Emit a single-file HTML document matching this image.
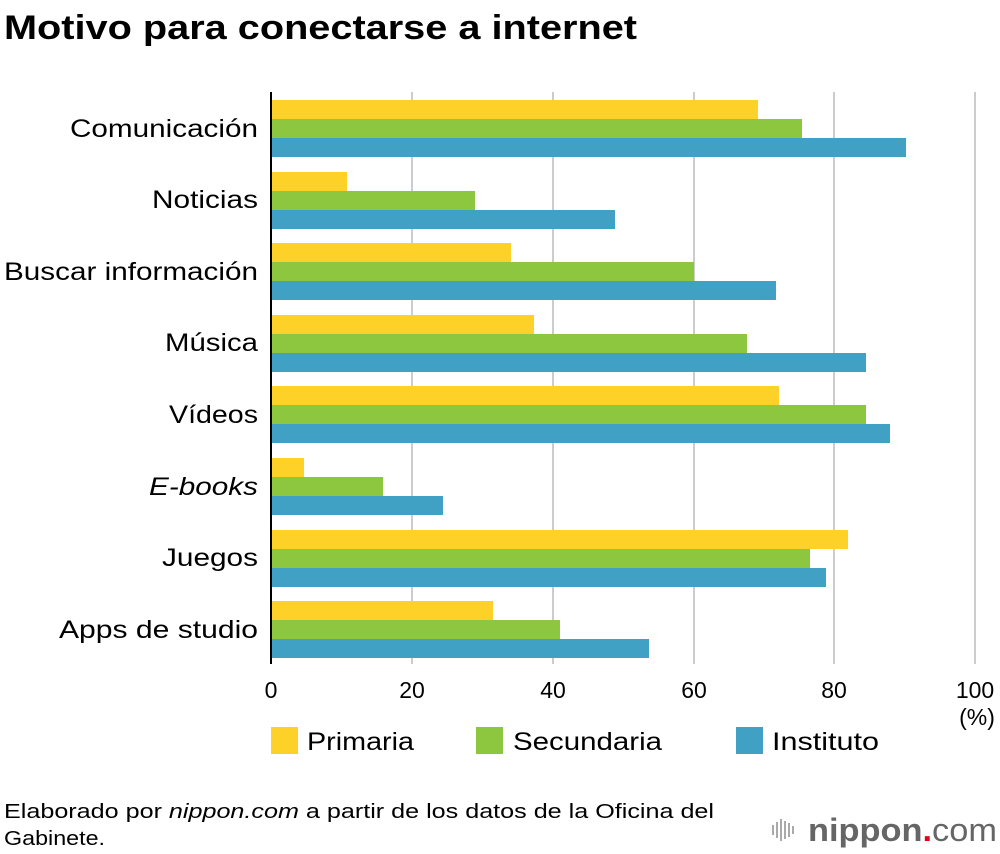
<!DOCTYPE html>
<html><head><meta charset="utf-8"><style>
body{margin:0;background:#fff;}
svg{display:block;font-family:"Liberation Sans",Arial,sans-serif;}
</style></head><body>
<svg width="1000" height="854" viewBox="0 0 1000 854">
<text x="4" y="39" font-size="34" font-weight="bold" fill="#000" textLength="633" lengthAdjust="spacingAndGlyphs">Motivo para conectarse a internet</text>
<g stroke="#ccc" stroke-width="2">
<line x1="412" y1="92" x2="412" y2="664"/><line x1="553" y1="92" x2="553" y2="664"/>
<line x1="694" y1="92" x2="694" y2="664"/><line x1="834" y1="92" x2="834" y2="664"/>
<line x1="975" y1="92" x2="975" y2="664"/>
</g>
<g>
<rect x="271" y="100" width="487" height="19" fill="#FDD127"/><rect x="271" y="119" width="531" height="19" fill="#8DC63F"/><rect x="271" y="138" width="635" height="19" fill="#41A1C4"/>
<rect x="271" y="172" width="76" height="19" fill="#FDD127"/><rect x="271" y="191" width="204" height="19" fill="#8DC63F"/><rect x="271" y="210" width="344" height="19" fill="#41A1C4"/>
<rect x="271" y="243" width="240" height="19" fill="#FDD127"/><rect x="271" y="262" width="423" height="19" fill="#8DC63F"/><rect x="271" y="281" width="505" height="19" fill="#41A1C4"/>
<rect x="271" y="315" width="263" height="19" fill="#FDD127"/><rect x="271" y="334" width="476" height="19" fill="#8DC63F"/><rect x="271" y="353" width="595" height="19" fill="#41A1C4"/>
<rect x="271" y="386" width="508" height="19" fill="#FDD127"/><rect x="271" y="405" width="595" height="19" fill="#8DC63F"/><rect x="271" y="424" width="619" height="19" fill="#41A1C4"/>
<rect x="271" y="458" width="33" height="19" fill="#FDD127"/><rect x="271" y="477" width="112" height="19" fill="#8DC63F"/><rect x="271" y="496" width="172" height="19" fill="#41A1C4"/>
<rect x="271" y="530" width="577" height="19" fill="#FDD127"/><rect x="271" y="549" width="539" height="19" fill="#8DC63F"/><rect x="271" y="568" width="555" height="19" fill="#41A1C4"/>
<rect x="271" y="601" width="222" height="19" fill="#FDD127"/><rect x="271" y="620" width="289" height="19" fill="#8DC63F"/><rect x="271" y="639" width="378" height="19" fill="#41A1C4"/>
</g>
<line x1="271" y1="92" x2="271" y2="664" stroke="#000" stroke-width="2"/>
<g font-size="25" fill="#000" lengthAdjust="spacingAndGlyphs">
<text x="70" y="137" textLength="188" lengthAdjust="spacingAndGlyphs">Comunicación</text>
<text x="152" y="208" textLength="106" lengthAdjust="spacingAndGlyphs">Noticias</text>
<text x="4" y="280" textLength="254" lengthAdjust="spacingAndGlyphs">Buscar información</text>
<text x="165" y="351" textLength="93" lengthAdjust="spacingAndGlyphs">Música</text>
<text x="169" y="423" textLength="89" lengthAdjust="spacingAndGlyphs">Vídeos</text>
<text x="149" y="495" font-style="italic" textLength="109" lengthAdjust="spacingAndGlyphs">E-books</text>
<text x="162" y="566" textLength="96" lengthAdjust="spacingAndGlyphs">Juegos</text>
<text x="59" y="638" textLength="199" lengthAdjust="spacingAndGlyphs">Apps de studio</text>
</g>
<g font-size="23" text-anchor="middle" fill="#000">
<text x="271" y="698">0</text><text x="412" y="698">20</text><text x="553" y="698">40</text>
<text x="694" y="698">60</text><text x="834" y="698">80</text><text x="975" y="698">100</text>
<text x="977" y="725">(%)</text>
</g>
<rect x="271" y="727" width="27" height="27" fill="#FDD127"/><text x="307" y="750" font-size="25" textLength="107" lengthAdjust="spacingAndGlyphs">Primaria</text>
<rect x="476" y="727" width="27" height="27" fill="#8DC63F"/><text x="513" y="750" font-size="25" textLength="149" lengthAdjust="spacingAndGlyphs">Secundaria</text>
<rect x="736" y="727" width="27" height="27" fill="#41A1C4"/><text x="772" y="750" font-size="25" textLength="107" lengthAdjust="spacingAndGlyphs">Instituto</text>
<text x="4" y="818" font-size="20" textLength="710" lengthAdjust="spacingAndGlyphs">Elaborado por <tspan font-style="italic">nippon.com</tspan> a partir de los datos de la Oficina del</text>
<text x="4" y="845" font-size="20" textLength="101" lengthAdjust="spacingAndGlyphs">Gabinete.</text>
<g stroke="#aaa" stroke-width="2">
<line x1="773" y1="825" x2="773" y2="835"/><line x1="777" y1="822" x2="777" y2="838"/><line x1="781" y1="819" x2="781" y2="841"/><line x1="785" y1="821" x2="785" y2="839"/><line x1="789" y1="823" x2="789" y2="837"/><line x1="793" y1="826" x2="793" y2="834"/>
</g>
<text x="808" y="841" font-size="32" fill="#666" font-weight="bold" textLength="189" lengthAdjust="spacingAndGlyphs">nippon<tspan fill="#e60012">.</tspan><tspan font-weight="normal">com</tspan></text>
</svg>
</body></html>
